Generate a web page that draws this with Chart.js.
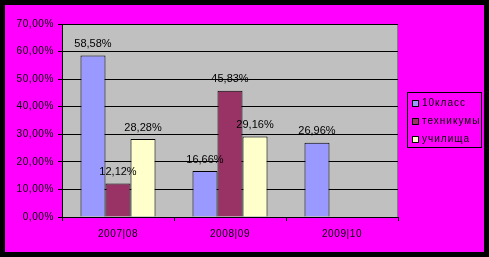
<!DOCTYPE html>
<html>
<head>
<meta charset="utf-8">
<script src="https://cdn.jsdelivr.net/npm/chart.js@4"></script>
<style>
    html, body { margin: 0; padding: 0; background: #000; }
    #frame { position: absolute; left: 5px; top: 5px; width: 479px; height: 247px; background: #FF00FF; }
    #chart { position: absolute; left: 0; top: 0; }
    #legend {
        position: absolute; left: 402px; top: 87px; width: 73px; height: 54px;
        border: 1px solid #000; font: 10px 'Liberation Sans', Arial, sans-serif; color: #000;
        letter-spacing: 1px;
    }
    #legend div { position: absolute; left: 14px; height: 12px; line-height: 12px; white-space: nowrap; }
    #legend span { position: absolute; left: -10px; top: 3px; width: 5px; height: 5px; border: 1px solid #000; }
</style>
</head>
<body>
<div id="frame">
    <canvas id="chart" width="479" height="247"></canvas>
    <div id="legend"></div>
</div>
<script>
// ===== data =====
const categories = ['2007|08', '2008|09', '2009|10'];
const seriesNames = ['10класс', 'техникумы', 'училища'];
const klass10 = [58.58, 16.66, 26.96];
const tehnikumy = [12.12, 45.83, null];
const uchilishcha = [28.28, 29.16, null];
const colors = ['#9999FF', '#993366', '#FFFFCC'];

const fmt = (v) => v.toFixed(2).replace('.', ',') + '%';

// legend (html)
const legend = document.getElementById('legend');
seriesNames.forEach((name, i) => {
    const row = document.createElement('div');
    row.style.top = (4 + i * 18) + 'px';
    row.innerHTML = '<span style="background:' + colors[i] + '"></span>' + name;
    legend.appendChild(row);
});

// plot background + value labels
const plotBg = {
    id: 'plotBg',
    beforeDraw(chart) {
        const { ctx, chartArea: a } = chart;
        ctx.letterSpacing = '0.6px';
        ctx.save();
        ctx.fillStyle = '#C0C0C0';
        ctx.fillRect(a.left, a.top, a.right - a.left, a.bottom - a.top);
        ctx.strokeStyle = '#808080';
        ctx.lineWidth = 1;
        ctx.beginPath();
        ctx.moveTo(a.right - 0.5, a.top);
        ctx.lineTo(a.right - 0.5, a.bottom);
        ctx.stroke();
        ctx.restore();
    }
};

const valueLabels = {
    id: 'valueLabels',
    afterDatasetsDraw(chart) {
        const ctx = chart.ctx;
        ctx.save();
        ctx.letterSpacing = '0px';
        ctx.font = "11px 'Liberation Sans', Arial, sans-serif";
        ctx.fillStyle = '#000';
        ctx.textAlign = 'center';
        ctx.textBaseline = 'bottom';
        chart.data.datasets.forEach((ds, i) => {
            chart.getDatasetMeta(i).data.forEach((bar, j) => {
                if (ds.data[j] == null) return;
                ctx.fillText(fmt(ds.data[j]), bar.x, bar.y - 6);
            });
        });
        ctx.restore();
    }
};

new Chart(document.getElementById('chart'), {
    type: 'bar',
    data: {
        labels: categories,
        datasets: [klass10, tehnikumy, uchilishcha].map((d, i) => ({
            label: seriesNames[i],
            data: d,
            backgroundColor: colors[i],
            borderColor: '#000',
            borderWidth: 1,
            borderSkipped: 'bottom',
            barPercentage: 1,
            categoryPercentage: 0.67
        }))
    },
    options: {
        responsive: false,
        animation: false,
        layout: { padding: { top: 19, right: 86, left: 0, bottom: 0 } },
        plugins: { legend: { display: false }, tooltip: { enabled: false } },
        scales: {
            y: {
                min: 0,
                max: 70,
                afterFit: (s) => { s.width = 57; },
                ticks: {
                    stepSize: 10,
                    callback: (v) => fmt(v),
                    color: '#000',
                    padding: 4,
                    font: { family: "'Liberation Sans', Arial, sans-serif", size: 10 }
                },
                grid: { color: '#000', tickLength: 4, tickColor: '#000' },
                border: { color: '#000' }
            },
            x: {
                afterFit: (s) => { s.height = 35; },
                ticks: {
                    color: '#000',
                    padding: 7,
                    font: { family: "'Liberation Sans', Arial, sans-serif", size: 10 }
                },
                grid: { drawOnChartArea: false, tickLength: 4, tickColor: '#000' },
                border: { color: '#000' }
            }
        }
    },
    plugins: [plotBg, valueLabels]
});
</script>
</body>
</html>
